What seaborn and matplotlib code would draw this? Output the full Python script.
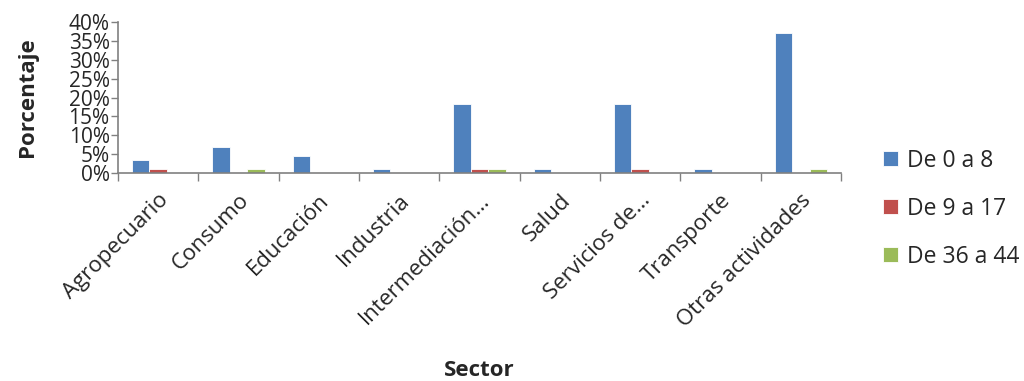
import matplotlib
matplotlib.use("Agg")
import matplotlib.pyplot as plt
from matplotlib.ticker import MultipleLocator, FuncFormatter, FixedLocator
import seaborn as sns
import pandas as pd
import numpy as np

sectores = ["Agropecuario", "Consumo", "Educación", "Industria", "Intermediación…",
            "Salud", "Servicios de…", "Transporte", "Otras actividades"]
series = ["De 0 a 8", "De 9 a 17", "De 36 a 44"]
de_0_a_8 = [3.4, 6.9, 4.6, 1.1, 18.4, 1.1, 18.4, 1.1, 37.2]
de_9_a_17 = [1.1, 0, 0, 0, 1.1, 0, 1.1, 0, 0]
de_36_a_44 = [0, 1.1, 0, 0, 1.1, 0, 0, 0, 1.1]
colors = ["#4F81BD", "#C0504D", "#9BBB59"]

rows = []
for s, vals in zip(series, [de_0_a_8, de_9_a_17, de_36_a_44]):
    for c, v in zip(sectores, vals):
        rows.append({"Sector": c, "Serie": s, "Valor": v})
df = pd.DataFrame(rows)

sns.set_theme(style="white")
plt.rcParams['font.family'] = ['Open Sans', 'DejaVu Sans']

fig = plt.figure(figsize=(10.24, 3.81), dpi=100)
ax = fig.add_axes([118/1024, 1 - 173/381, (841-118)/1024, (173-22)/381])

sns.barplot(data=df, x="Sector", y="Valor", hue="Serie", order=sectores,
            hue_order=series, palette=colors, width=0.65, gap=0, saturation=1,
            edgecolor="white", linewidth=0.6, ax=ax, legend=True)

ax.set_ylim(0, 40)
ax.set_xlim(-0.5, len(sectores) - 0.5)
ax.yaxis.set_major_locator(MultipleLocator(5))
ax.yaxis.set_major_formatter(FuncFormatter(lambda v, p: f"{int(v)}%"))
ax.tick_params(axis="y", labelsize=15, length=5, width=1, color="#808080", direction="out", left=True, pad=1)

ax.set_xticks(np.arange(len(sectores)))
ax.set_xticklabels(sectores, rotation=45, ha="right", rotation_mode="anchor", fontsize=16)
ax.tick_params(axis="x", length=0, pad=12)
ax.xaxis.set_minor_locator(FixedLocator(np.arange(-0.5, len(sectores), 1.0)))
ax.tick_params(axis="x", which="minor", length=6, width=1, color="#808080", bottom=True)

for side in ["top", "right"]:
    ax.spines[side].set_visible(False)
for side in ["left", "bottom"]:
    ax.spines[side].set_color("#808080")
    ax.spines[side].set_linewidth(1.2)

ax.set_ylabel("")
ax.set_xlabel("")
fig.text(27/1024, 1 - 97/381, "Porcentaje", ha="center", va="center", rotation=90,
         fontsize=16, fontweight="bold")
fig.text(479/1024, 1 - 370/381, "Sector", ha="center", va="center", fontsize=16, fontweight="bold")

handles, labels = ax.get_legend_handles_labels()
ax.legend(handles, labels, loc="upper left", bbox_to_anchor=(862/1024, 1 - 128/381),
          bbox_transform=fig.transFigure, frameon=False, fontsize=16.5,
          handlelength=0.65, handleheight=0.65, labelspacing=1.05, handletextpad=0.4)

fig.savefig("out.png", dpi=100)
